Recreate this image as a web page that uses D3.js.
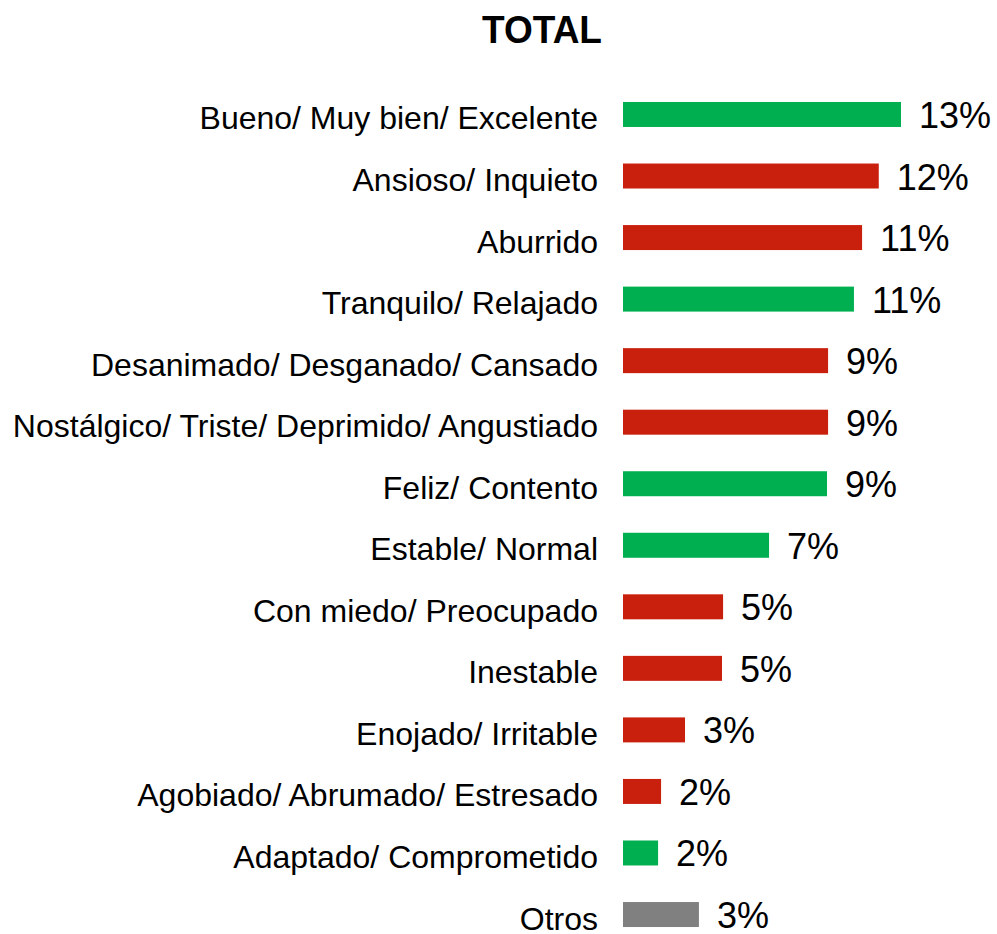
<!DOCTYPE html>
<html>
<head>
<meta charset="utf-8">
<script src="https://cdn.jsdelivr.net/npm/d3@7"></script>
<style>
  html, body { margin: 0; padding: 0; background: #fff; }
  svg { display: block; }
</style>
</head>
<body>
<svg id="chart" width="997" height="934"></svg>
<script>
const categories = [
  "Bueno/ Muy bien/ Excelente",
  "Ansioso/ Inquieto",
  "Aburrido",
  "Tranquilo/ Relajado",
  "Desanimado/ Desganado/ Cansado",
  "Nostálgico/ Triste/ Deprimido/ Angustiado",
  "Feliz/ Contento",
  "Estable/ Normal",
  "Con miedo/ Preocupado",
  "Inestable",
  "Enojado/ Irritable",
  "Agobiado/ Abrumado/ Estresado",
  "Adaptado/ Comprometido",
  "Otros"
];
const values = [13.0, 11.96, 11.18, 10.8, 9.59, 9.59, 9.54, 6.83, 4.68, 4.63, 2.9, 1.78, 1.64, 3.55];
const valueLabels = ["13%", "12%", "11%", "11%", "9%", "9%", "9%", "7%", "5%", "5%", "3%", "2%", "2%", "3%"];
const tone = ["pos", "neg", "neg", "pos", "neg", "neg", "pos", "pos", "neg", "neg", "neg", "neg", "pos", "other"];
const title = "TOTAL";

const colors = { pos: "#00B050", neg: "#C9200E", other: "#808080" };

const svg = d3.select("#chart");

const y = d3.scaleBand()
  .domain(categories)
  .range([83.7, 945.3])
  .paddingInner(0.594)
  .paddingOuter(0.297);

const x = d3.scaleLinear()
  .domain([0, 13])
  .range([623, 901]);

const data = categories.map((c, i) => ({ c, v: values[i], lab: valueLabels[i], t: tone[i] }));

svg.append("text")
  .attr("x", 542)
  .attr("y", 43)
  .attr("text-anchor", "middle")
  .attr("font-family", "Liberation Sans, Arial, sans-serif")
  .attr("font-weight", "bold")
  .attr("font-size", 39)
  .attr("textLength", 120)
  .attr("lengthAdjust", "spacingAndGlyphs")
  .text(title);

svg.selectAll("rect.bar")
  .data(data)
  .join("rect")
  .attr("class", "bar")
  .attr("x", x(0))
  .attr("y", d => y(d.c))
  .attr("width", d => x(d.v) - x(0))
  .attr("height", y.bandwidth())
  .attr("fill", d => colors[d.t]);

svg.selectAll("text.cat")
  .data(data)
  .join("text")
  .attr("class", "cat")
  .attr("x", 598)
  .attr("y", d => y(d.c) + y.bandwidth() + 2.5)
  .attr("text-anchor", "end")
  .attr("font-family", "Liberation Sans, Arial, sans-serif")
  .attr("font-size", 32)
  .attr("fill", "#000")
  .text(d => d.c);

svg.selectAll("text.val")
  .data(data)
  .join("text")
  .attr("class", "val")
  .attr("x", d => x(d.v) + 18)
  .attr("y", d => y(d.c) + y.bandwidth() + 1)
  .attr("font-family", "Liberation Sans, Arial, sans-serif")
  .attr("font-size", 36)
  .attr("fill", "#000")
  .text(d => d.lab);
</script>
</body>
</html>
